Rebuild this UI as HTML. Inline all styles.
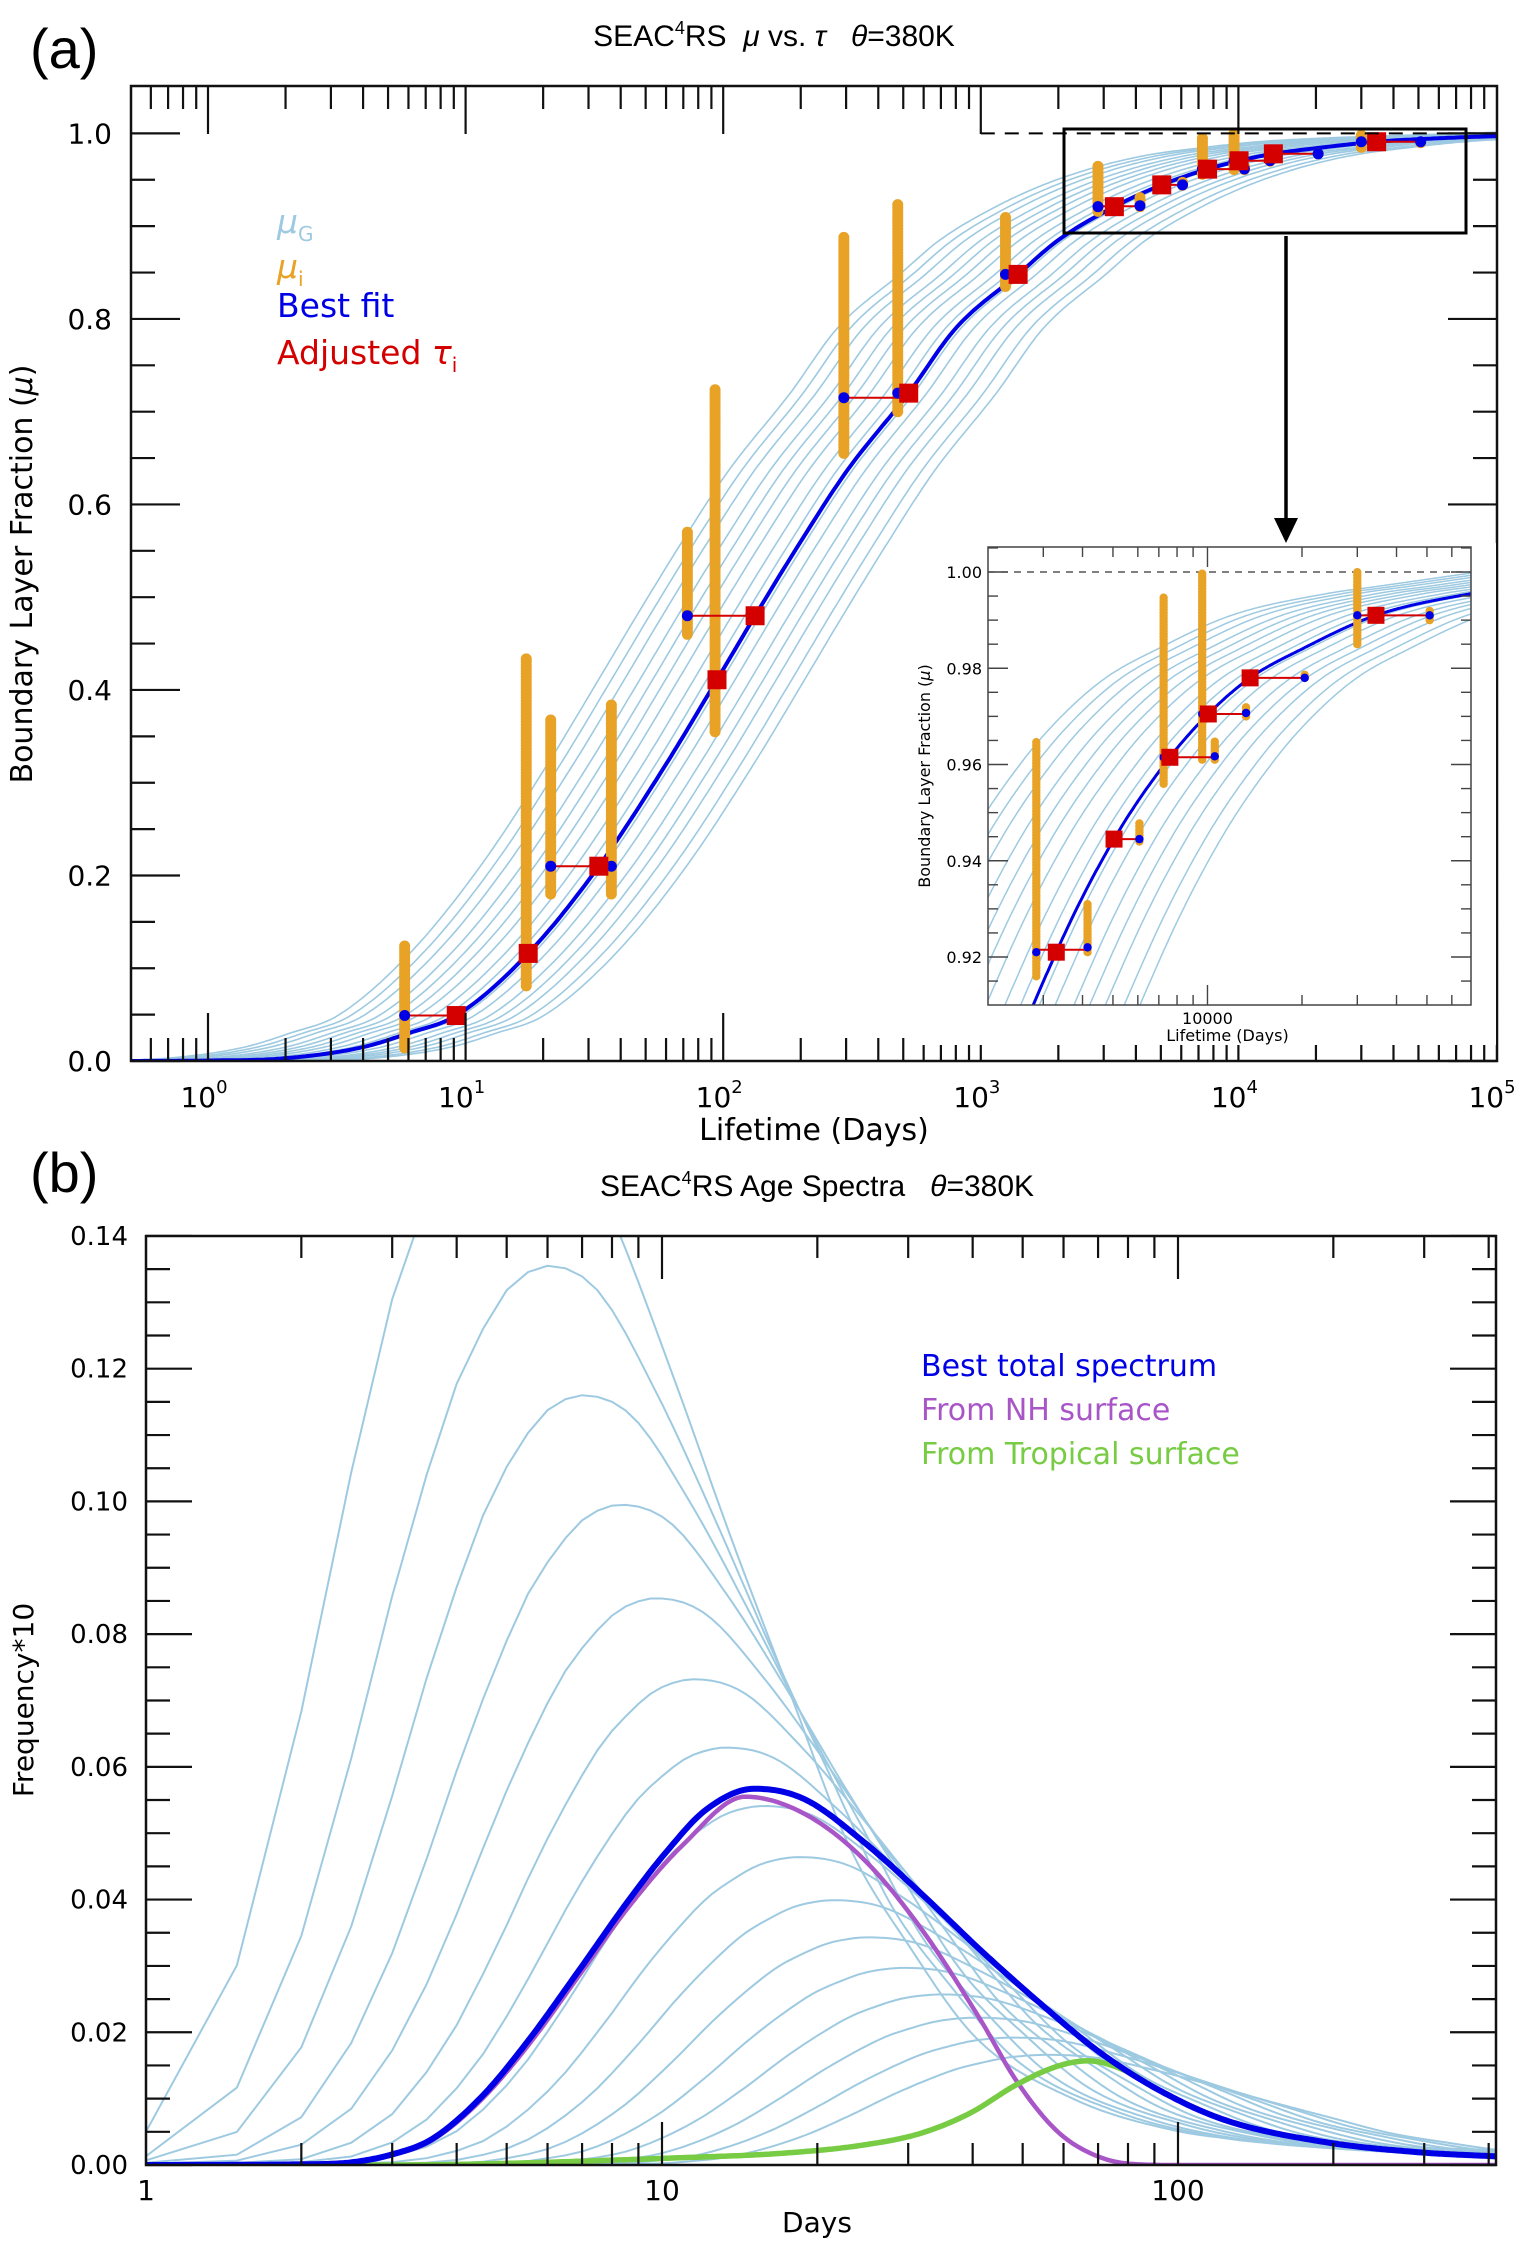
<!DOCTYPE html>
<html><head><meta charset="utf-8"><style>
html,body{margin:0;padding:0;background:#fff;width:1534px;height:2250px;overflow:hidden;}
svg{display:block;}
text{font-family:"DejaVu Sans","Liberation Sans",sans-serif;}
.ttl{font-family:"Liberation Sans",sans-serif;}
</style></head><body>
<svg id="fig" width="1534" height="2250" viewBox="0 0 1534 2250" xmlns="http://www.w3.org/2000/svg">
<defs>
<clipPath id="clipA"><rect x="131" y="86" width="1366" height="976"/></clipPath>
<clipPath id="clipI"><rect x="988" y="547" width="483" height="458"/></clipPath>
<clipPath id="clipB"><rect x="146" y="1236" width="1350" height="929"/></clipPath>
</defs>
<g id="panelA"></g>
<g id="panelB"></g>
</svg>
<script>
// ---------- Panel (a) data ----------
const bestTau = [0.5,1,2,4,6,9.2,17.5,32.9,60,94.6,133,200,300,525,800,1396,2000,3300,5040,7590,10060,13670,20000,34400,69000,100000];
const bestMu  = [0,0.0005,0.003,0.015,0.03,0.049,0.116,0.21,0.32,0.411,0.48,0.56,0.635,0.72,0.79,0.848,0.885,0.921,0.9445,0.9615,0.9705,0.978,0.984,0.991,0.9955,0.997];
const familyOffsets = [-0.46,-0.41,-0.36,-0.30,-0.25,-0.20,-0.15,-0.09,-0.04,0.02,0.07,0.13,0.18,0.23,0.29,0.34];
const colTau = [5.8,17.2,21.4,36.8,72.6,93,294,476,1247,2850,4150,6070,7250,9620,10550,13270,20400,30000,51000];
const colLo  = [0.014,0.081,0.18,0.18,0.46,0.355,0.655,0.70,0.835,0.916,0.921,0.944,0.956,0.961,0.961,0.970,0.978,0.985,0.990];
const colHi  = [0.124,0.434,0.37,0.385,0.57,0.725,0.89,0.925,0.91,0.965,0.931,0.948,0.995,1.0,0.965,0.972,0.979,1.0,0.992];
const blueTau = [5.8,21.4,36.8,72.6,294,476,1247,2850,4150,6070,7250,10550,9620,13270,20400,30000,51000];
const blueMu  = [0.049,0.21,0.21,0.48,0.715,0.72,0.848,0.921,0.922,0.9445,0.9615,0.9617,0.9705,0.9707,0.978,0.991,0.991];
const redTau = [9.2,17.5,32.9,94.6,133,525,1396,3300,5040,7590,10060,13670,34400];
const redMu  = [0.049,0.116,0.21,0.411,0.48,0.72,0.848,0.921,0.9445,0.9615,0.9705,0.978,0.991];
const linkFrom = [5.8,21.4,72.6,294,1247,2850,5040,7250,9620,13670,30000];
const linkTo   = [9.2,36.8,133,525,1396,4150,6070,10550,13270,20400,51000];
const linkMu   = [0.049,0.21,0.48,0.715,0.848,0.9215,0.9445,0.9615,0.9705,0.978,0.991];
const yTicksA = [0,0.2,0.4,0.6,0.8,1.0];
const yLabelsA = ["0.0","0.2","0.4","0.6","0.8","1.0"];
const xDecadesA = [0,1,2,3,4,5];
const yTicksI = [0.92,0.94,0.96,0.98,1.00];
const yLabelsI = ["0.92","0.94","0.96","0.98","1.00"];

// ---------- Panel (b) data ----------
const specPeakDay = [5.0,6.0,7.0,8.3,9.7,11.5,13.3,15.7,18.4,21.5,25.1,29.4,34.7,40.6,47.8,55.7];
const specPeakVal = [0.165,0.1355,0.116,0.0995,0.0854,0.0732,0.0629,0.0541,0.0464,0.0399,0.0343,0.0297,0.0257,0.0222,0.0192,0.0166];
const shapeU = [-1.2,-0.78,-0.70,-0.60,-0.477,-0.38,-0.30,-0.234,-0.176,-0.125,-0.079,-0.038,0,0.095,0.21,0.323,0.437,0.55,0.665,0.78,0.91,1.1,1.29,1.43,1.82,2.3];
const shapeV = [0,0.0096,0.03,0.088,0.255,0.453,0.635,0.768,0.869,0.93,0.973,0.993,1,0.974,0.86,0.72,0.57,0.43,0.29,0.20,0.116,0.06,0.032,0.023,0.015,0.01];
const totDays = [1,2,2.5,3,3.58,4.46,5.5,6.9,8.6,10.2,12.2,15.1,18.8,24.5,31.8,41.4,53.8,69.9,90.8,123,191,295,413];
const totVals = [0,0.0001,0.0004,0.0016,0.0039,0.0102,0.0187,0.0293,0.0398,0.0472,0.0536,0.0567,0.0552,0.0488,0.0409,0.0324,0.0245,0.0172,0.0115,0.0068,0.0035,0.0019,0.0013];
const nhDays = [1,2.5,3,3.58,4.46,5.5,6.9,8.6,11,14.5,18.8,24.5,31.8,41.4,48.9,58.5,69.9,83.5,100,413];
const nhVals = [0,0.0004,0.0015,0.0037,0.0098,0.018,0.0285,0.0388,0.0483,0.0555,0.053,0.0462,0.0356,0.0219,0.0124,0.005,0.0013,0.0001,0,0];
const trDays = [1,3,4.7,10,17.3,24.5,31.8,39.5,48.9,58.5,66.9,79.2,90.8,123,191,295,413];
const trVals = [0,0,0.0002,0.001,0.0018,0.003,0.0048,0.0078,0.0122,0.0149,0.0157,0.0142,0.0115,0.0068,0.0035,0.0019,0.0013];
const yTicksB = [0,0.02,0.04,0.06,0.08,0.10,0.12,0.14];
const yLabelsB = ["0.00","0.02","0.04","0.06","0.08","0.10","0.12","0.14"];
const xLabelsB = ["1","10","100"];

// ---------- helpers ----------
const NS = "http://www.w3.org/2000/svg";
function mk(tag, attrs, parent){
  const e = document.createElementNS(NS, tag);
  for (const k in attrs) e.setAttribute(k, attrs[k]);
  parent.appendChild(e);
  return e;
}
function monotone(xs, ys){
  const n = xs.length, d = [], m = new Array(n);
  for (let i=0;i<n-1;i++) d.push((ys[i+1]-ys[i])/(xs[i+1]-xs[i]));
  m[0]=d[0]; m[n-1]=d[n-2];
  for (let i=1;i<n-1;i++) m[i] = (d[i-1]*d[i]<=0)?0:(d[i-1]+d[i])/2;
  for (let i=0;i<n-1;i++){
    if (d[i]===0){m[i]=0;m[i+1]=0;continue;}
    const a=m[i]/d[i], b=m[i+1]/d[i], s=a*a+b*b;
    if (s>9){const t=3/Math.sqrt(s);m[i]=t*a*d[i];m[i+1]=t*b*d[i];}
  }
  return function(x){
    if (x<=xs[0]) return ys[0];
    if (x>=xs[n-1]) return ys[n-1] + (x-xs[n-1])*m[n-1];
    let i=0; while (x>xs[i+1]) i++;
    const h=xs[i+1]-xs[i], t=(x-xs[i])/h, t2=t*t, t3=t2*t;
    return (2*t3-3*t2+1)*ys[i]+(t3-2*t2+t)*h*m[i]+(-2*t3+3*t2)*ys[i+1]+(t3-t2)*h*m[i+1];
  };
}
const lg = Math.log10;

// ---------- Panel (a) ----------
const A = document.getElementById('panelA');
const xA = t => 208 + 257.6*lg(t);
const yA = m => 1061 - m*927.6;
const xI = t => 988 + 314*(lg(t)-lg(2000));
const yI = m => 957 - (m-0.92)*4812.5;
const bestFn = monotone(bestTau.map(lg), bestMu);

let t1 = mk('text',{x:774,y:46,'font-size':30,'text-anchor':'middle',class:'ttl'},A);


t1.innerHTML = 'SEAC<tspan font-size="18" dy="-12">4</tspan><tspan dy="12">RS\u00a0\u00a0</tspan><tspan font-style="italic">μ</tspan> vs. <tspan font-style="italic">τ</tspan>\u00a0\u00a0\u00a0<tspan font-style="italic">θ</tspan>=380K';
let la = mk('text',{x:30,y:68,'font-size':56,class:'ttl'},A);


la.textContent='(a)';

const gA = mk('g',{'clip-path':'url(#clipA)'},A);


function curvePath(fn, off, xs, ys, lo, hi, yMin, yMax){
  let d='';
  for (let i=0;i<=400;i++){
    const L = lo + (hi-lo)*i/400;
    const m = fn(L-off);
    const y = Math.min(yMax, Math.max(yMin, ys(m)));
    d += (i?'L':'M')+xs(L).toFixed(1)+','+y.toFixed(1);
  }
  return d;
}
familyOffsets.forEach((o,k)=>{
  const p = mk('path',{d:curvePath(bestFn,o,L=>208+257.6*L,yA,-0.3,5,80,1070),fill:'none',stroke:'#9ecae1','stroke-width':1.6},gA);
  
  
});
let dl = mk('line',{x1:xA(1000),y1:yA(1),x2:1497,y2:yA(1),stroke:'#000','stroke-width':2,'stroke-dasharray':'14,10'},A);


let bp = mk('path',{d:curvePath(bestFn,0,L=>208+257.6*L,yA,-0.3,5,80,1070),fill:'none',stroke:'#0000e6','stroke-width':4},gA);



function drawMarkers(g, xs, ys, inset){
  const r = inset?4.2:5.5, sq = inset?17:19;
  const minT = inset?1900:0;
  colTau.forEach((t,i)=>{
    if (t<minT) return;
    const yTop = ys(colHi[i]), yBot = ys(colLo[i]);
    for (let y=yBot; y>=yTop-0.1; y-=3){
      const c = mk('circle',{cx:xs(t),cy:y,r:r,fill:'#e8a226'},g);
      
      
    }
  });
  linkFrom.forEach((t,i)=>{
    if (t<minT) return;
    const l = mk('line',{x1:xs(t),y1:ys(linkMu[i]),x2:xs(linkTo[i]),y2:ys(linkMu[i]),stroke:'#d40000','stroke-width':2},g);
    
    
  });
  blueTau.forEach((t,i)=>{
    if (t<minT) return;
    const c = mk('circle',{cx:xs(t),cy:ys(blueMu[i]),r:r,fill:'#0000e6'},g);
    
    
  });
  redTau.forEach((t,i)=>{
    if (t<minT) return;
    const s = mk('rect',{x:xs(t)-sq/2,y:ys(redMu[i])-sq/2,width:sq,height:sq,fill:'#d40000'},g);
    
    
  });
}
drawMarkers(gA, xA, yA, false);

// legend
const legA = [['#9ecae1','μ','G',233],['#e8a226','μ','i',278],['#0000e6','Best fit','',317],['#d40000','Adjusted τ','i',364]];
legA.forEach(e=>{
  const t = mk('text',{x:277,y:e[3],'font-size':33,fill:e[0]},A);
  
  
  t.innerHTML = (e[1]==='μ'?'<tspan font-style="italic">μ</tspan>':e[1].replace('τ','<tspan font-style="italic">τ</tspan>')) + (e[2]?'<tspan font-size="20" dy="8">'+e[2]+'</tspan>':'');
});

// frame & ticks
let fr = mk('rect',{x:131,y:86,width:1366,height:975,fill:'none',stroke:'#111','stroke-width':2.5},A);


const tkA = mk('g',{stroke:'#111','stroke-width':2.2},A);


for (let m=0; m<=1.0001; m+=0.05){
  const major = Math.abs(m*5-Math.round(m*5))<1e-6;
  const len = major?49:24, y=yA(m);
  mk('line',{x1:131,y1:y,x2:131+len,y2:y},tkA);
  mk('line',{x1:1497-len,y1:y,x2:1497,y2:y},tkA);
}
for (let dec=-1; dec<=4; dec++){
  for (let k=1;k<=9;k++){
    const t = k*Math.pow(10,dec), x = xA(t);
    if (x<131.5||x>1497) continue;
    const len = k===1?48:23;
    mk('line',{x1:x,y1:1061,x2:x,y2:1061-len},tkA);
    mk('line',{x1:x,y1:86,x2:x,y2:86+len},tkA);
  }
}
yTicksA.forEach((m,i)=>{
  const t = mk('text',{x:112,y:yA(m)+10,'font-size':28,'text-anchor':'end'},A);
  
  
  t.textContent = yLabelsA[i];
});
xDecadesA.forEach(d=>{
  const t = mk('text',{x:xA(Math.pow(10,d))-4,y:1107,'font-size':28,'text-anchor':'middle'},A);
  
  
  t.innerHTML = '10<tspan font-size="18" dy="-14">'+d+'</tspan>';
});
let xt = mk('text',{x:814,y:1140,'font-size':30,'text-anchor':'middle'},A);


xt.textContent='Lifetime (Days)';
let yt = mk('text',{x:0,y:0,'font-size':30,'text-anchor':'middle',transform:'translate(32,574) rotate(-90)'},A);


yt.innerHTML='Boundary Layer Fraction (<tspan font-style="italic">μ</tspan>)';

// zoom box + arrow
let zb = mk('rect',{x:1064,y:129,width:402,height:104,fill:'none',stroke:'#000','stroke-width':3},A);


let ar = mk('line',{x1:1286,y1:236,x2:1286,y2:520,stroke:'#000','stroke-width':3.5},A);


let ah = mk('polygon',{points:'1274,518 1298,518 1286,543',fill:'#000'},A);



// inset
const IN = mk('g',{},A);


mk('rect',{x:912,y:543,width:584,height:502,fill:'#fff'},IN);
const gI = mk('g',{'clip-path':'url(#clipI)'},IN);
familyOffsets.forEach(o=>{
  const p = mk('path',{d:curvePath(bestFn,o,L=>988+314*(L-lg(2000)),yI,lg(2000),lg(69000),540,1010),fill:'none',stroke:'#9ecae1','stroke-width':1.5},gI);
  
  
});
let idl = mk('line',{x1:988,y1:yI(1),x2:1471,y2:yI(1),stroke:'#333','stroke-width':1.3,'stroke-dasharray':'7,6'},gI);


let ibp = mk('path',{d:curvePath(bestFn,0,L=>988+314*(L-lg(2000)),yI,lg(2000),lg(69000),540,1010),fill:'none',stroke:'#0000e6','stroke-width':3},gI);


drawMarkers(gI, xI, yI, true);
let ifr = mk('rect',{x:988,y:547,width:483,height:458,fill:'none',stroke:'#444','stroke-width':1.5},IN);


const tkI = mk('g',{stroke:'#444','stroke-width':1.4},IN);


for (let m=0.91; m<=1.0051; m+=0.005){
  const major = Math.abs(m*50-Math.round(m*50))<1e-6;
  const len = major?20:10, y=yI(m);
  if (y<547||y>1005) continue;
  mk('line',{x1:988,y1:y,x2:988+len,y2:y},tkI);
  mk('line',{x1:1471-len,y1:y,x2:1471,y2:y},tkI);
}
for (let dec=3; dec<=4; dec++){
  for (let k=1;k<=9;k++){
    const t=k*Math.pow(10,dec), x=xI(t);
    if (x<989||x>1470) continue;
    const len = (dec===4&&k===1)?20:10;
    mk('line',{x1:x,y1:1005,x2:x,y2:1005-len},tkI);
    mk('line',{x1:x,y1:547,x2:x,y2:547+len},tkI);
  }
}
yTicksI.forEach((m,i)=>{
  const t = mk('text',{x:982,y:yI(m)+6,'font-size':16,'text-anchor':'end'},IN);
  
  
  t.textContent = yLabelsI[i];
});
let ixl = mk('text',{x:xI(10000),y:1024,'font-size':16,'text-anchor':'middle'},IN);


ixl.textContent='10000';
let ixt = mk('text',{x:xI(10000)+20,y:1041,'font-size':16,'text-anchor':'middle'},IN);


ixt.textContent='Lifetime (Days)';
let iyt = mk('text',{x:0,y:0,'font-size':16,'text-anchor':'middle',transform:'translate(930,776) rotate(-90)'},IN);


iyt.innerHTML='Boundary Layer Fraction (<tspan font-style="italic">μ</tspan>)';

// ---------- Panel (b) ----------
const B = document.getElementById('panelB');
const xB = t => 146 + 516*lg(t);
const yB = v => 2165 - v*6636;
const tMax = Math.pow(10,1350/516);

let t2 = mk('text',{x:817,y:1196,'font-size':30,'text-anchor':'middle',class:'ttl'},B);


t2.innerHTML='SEAC<tspan font-size="18" dy="-12">4</tspan><tspan dy="12">RS Age Spectra\u00a0\u00a0\u00a0</tspan><tspan font-style="italic">θ</tspan>=380K';
let lb = mk('text',{x:30,y:1192,'font-size':56,class:'ttl'},B);


lb.textContent='(b)';

const gB = mk('g',{'clip-path':'url(#clipB)'},B);


const shapeFn = monotone(shapeU, shapeV);
specPeakDay.forEach((pd,i)=>{
  let d='';
  for (let t=1; t<=tMax+0.5; t+=0.5){
    const u = lg(t/pd);
    const v = u<shapeU[0]?0:specPeakVal[i]*Math.max(0,shapeFn(u));
    const y = Math.max(1200, yB(v));
    d += (t===1?'M':'L')+Math.min(1500,xB(t)).toFixed(1)+','+y.toFixed(1);
  }
  const p = mk('path',{d:d,fill:'none',stroke:'#9ecae1','stroke-width':2},gB);
  
  
});
function seriesPath(days, vals){
  const f = monotone(days.map(lg), vals);
  let d='';
  for (let i=0;i<=500;i++){
    const L = lg(tMax)*i/500;
    d += (i?'L':'M')+xB(Math.pow(10,L)).toFixed(1)+','+yB(Math.max(0,f(L))).toFixed(1);
  }
  return d;
}
let pn = mk('path',{d:seriesPath(nhDays,nhVals),fill:'none',stroke:'#a855c8','stroke-width':4.5},gB);


let pt = mk('path',{d:seriesPath(trDays,trVals),fill:'none',stroke:'#77cc44','stroke-width':5.5},gB);


let pb = mk('path',{d:seriesPath(totDays,totVals),fill:'none',stroke:'#0000e6','stroke-width':6},gB);



let frb = mk('rect',{x:146,y:1236,width:1350,height:929,fill:'none',stroke:'#111','stroke-width':2.5},B);


const tkB = mk('g',{stroke:'#111','stroke-width':2.2},B);


for (let i=0;i<=28;i++){
  const v=i*0.005, y=yB(v), len=(i%4===0)?46:24;
  mk('line',{x1:146,y1:y,x2:146+len,y2:y},tkB);
  mk('line',{x1:1496-len,y1:y,x2:1496,y2:y},tkB);
}
for (let dec=0; dec<=2; dec++){
  for (let k=1;k<=9;k++){
    const t=k*Math.pow(10,dec), x=xB(t);
    if (x<147||x>1495) continue;
    const len=k===1?43:22;
    mk('line',{x1:x,y1:2165,x2:x,y2:2165-len},tkB);
    mk('line',{x1:x,y1:1236,x2:x,y2:1236+len},tkB);
  }
}
yTicksB.forEach((v,i)=>{
  const t = mk('text',{x:128,y:yB(v)+9,'font-size':26,'text-anchor':'end'},B);
  
  
  t.textContent = yLabelsB[i];
});
xLabelsB.forEach((s,i)=>{
  const t = mk('text',{x:xB(Math.pow(10,i)),y:2200,'font-size':28,'text-anchor':'middle'},B);
  
  
  t.textContent = s;
});
let xtb = mk('text',{x:817,y:2232,'font-size':28,'text-anchor':'middle'},B);


xtb.textContent='Days';
let ytb = mk('text',{x:0,y:0,'font-size':28,'text-anchor':'middle',transform:'translate(33,1700) rotate(-90)'},B);


ytb.textContent='Frequency*10';
const legB = [['#0000e6','Best total spectrum',1376],['#a855c8','From NH surface',1420],['#77cc44','From Tropical surface',1464]];
legB.forEach(e=>{
  const t = mk('text',{x:921,y:e[2],'font-size':30,fill:e[0]},B);
  
  
  t.textContent = e[1];
});
</script>
</body></html>
